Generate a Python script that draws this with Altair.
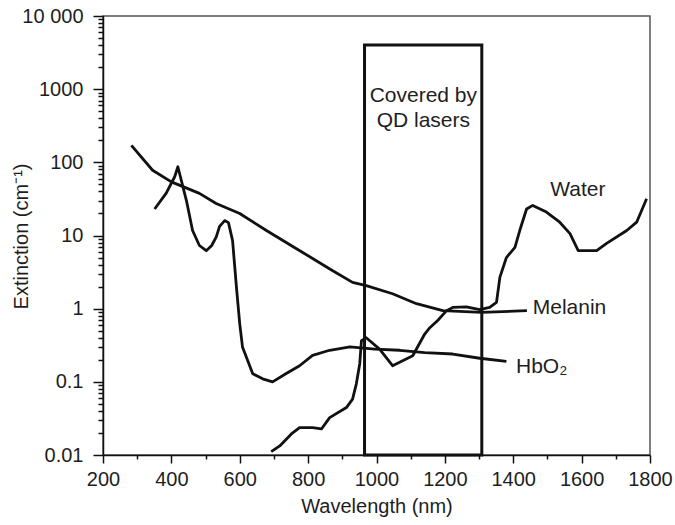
import altair as alt
import pandas as pd

# Extinction spectra (wavelength in nm, extinction in cm^-1)
melanin_nm = [283, 345, 400, 482, 531, 600, 678, 766, 872, 930, 970, 1047, 1117, 1194, 1307, 1440]
melanin_ext = [171, 78, 54, 37.6, 27.4, 20, 11.7, 6.6, 3.3, 2.29, 2.07, 1.6, 1.17, 0.94, 0.89, 0.94]

hbo2_nm = [351, 385, 410, 419, 444, 462, 482, 502, 518, 531, 541, 556, 567, 579, 591, 600, 608,
           638, 667, 696, 736, 775, 813, 863, 922, 995, 1068, 1141, 1223, 1302, 1380]
hbo2_ext = [23, 38, 64, 87, 30, 11.7, 7.3, 6.2, 7.3, 9.5, 13.3, 16, 15, 8.5, 1.8, 0.62, 0.30,
            0.129, 0.11, 0.10, 0.13, 0.166, 0.23, 0.27, 0.30, 0.28, 0.27, 0.25, 0.24, 0.21, 0.19]

water_nm = [692, 717, 751, 775, 813, 839, 863, 912, 930, 941, 951, 956, 970, 1009, 1047, 1106,
            1141, 1156, 1179, 1205, 1223, 1263, 1302, 1331, 1351, 1361, 1380, 1405, 1419, 1439,
            1457, 1497, 1536, 1566, 1590, 1644, 1673, 1732, 1761, 1790]
water_ext = [0.0111, 0.0133, 0.0194, 0.0237, 0.0237, 0.0227, 0.0324, 0.0445, 0.058, 0.094, 0.177,
             0.365, 0.40, 0.28, 0.166, 0.227, 0.45, 0.55, 0.69, 0.94, 1.04, 1.06, 0.97, 1.04, 1.22,
             2.7, 5.0, 6.9, 11.7, 23, 25.8, 20.9, 15.2, 10.6, 6.2, 6.2, 7.8, 11.7, 15.2, 31.8]

# Spectral window covered by QD lasers
band_nm = [965, 1308]
band_ext = [0.01, 4000]

# Curve labels
water_label = ["Water"]
water_label_nm = [1589]
water_label_ext = [42]
side_labels = ["Melanin", "HbO\u2082"]
side_labels_nm = [1457, 1408]
side_labels_ext = [1.02, 0.16]

box_text = ["Covered by", "QD lasers"]
box_text_nm = [1137, 1137]
box_text_ext = [800, 365]

# Axis ticks
y_major = [0.01, 0.1, 1, 10, 100, 1000, 10000]
y_minor = [m * d for d in [0.01, 0.1, 1, 10, 100, 1000] for m in range(2, 10)]
x_major = list(range(200, 1801, 200))
x_minor = list(range(300, 1800, 200))

FONT = "Liberation Sans"
INK = "#111111"
TEXT = "#1e1e1e"

curves = pd.concat([
    pd.DataFrame({"nm": melanin_nm, "ext": melanin_ext, "series": "Melanin"}),
    pd.DataFrame({"nm": hbo2_nm, "ext": hbo2_ext, "series": "HbO2"}),
    pd.DataFrame({"nm": water_nm, "ext": water_ext, "series": "Water"}),
])
band = pd.DataFrame({"x1": [band_nm[0]], "x2": [band_nm[1]], "y1": [band_ext[0]], "y2": [band_ext[1]]})
wlab = pd.DataFrame({"text": water_label, "nm": water_label_nm, "ext": water_label_ext})
slab = pd.DataFrame({"text": side_labels, "nm": side_labels_nm, "ext": side_labels_ext})
boxlab = pd.DataFrame({"text": box_text, "nm": box_text_nm, "ext": box_text_ext})

xscale = alt.Scale(domain=[200, 1800], nice=False, zero=False)
yscale = alt.Scale(type="log", domain=[0.01, 10000], nice=False)

x_axis = alt.Axis(
    values=x_major, format="d", tickSize=8, labelPadding=6, labelFontSize=20, labelFont=FONT,
    labelColor=TEXT, title="Wavelength (nm)", titleFont=FONT, titleFontSize=20,
    titleFontWeight="normal", titleColor=TEXT, titleY=51, titleBaseline="middle",
    grid=False, orient="bottom", labelFlush=False, labelOverlap=False,
)
y_axis = alt.Axis(
    values=y_major, tickSize=10, labelPadding=10, labelFontSize=20, labelFont=FONT,
    labelColor=TEXT, labelExpr="datum.value == 10000 ? '10 000' : toString(datum.value)",
    title="Extinction (cm\u207b\u00b9)", titleFont=FONT, titleFontSize=20,
    titleFontWeight="normal", titleColor=TEXT, titleX=-82, titleY=220,
    titleBaseline="middle", titleAngle=270, grid=False, orient="left",
    labelFlush=False, labelOverlap=False,
)
x_minor_axis = alt.Axis(values=x_minor, tickSize=4, labels=False, domain=False,
                        title=None, grid=False, orient="bottom")
y_minor_axis = alt.Axis(values=y_minor, tickSize=5, labels=False, domain=False,
                        title=None, grid=False, orient="left")

lines = alt.Chart(curves).mark_line(color=INK, strokeWidth=2.8, strokeJoin="round").encode(
    x=alt.X("nm:Q", scale=xscale, axis=x_axis),
    y=alt.Y("ext:Q", scale=yscale, axis=y_axis),
    detail="series:N",
)

rect = alt.Chart(band).mark_rect(fillOpacity=0, stroke=INK, strokeWidth=3).encode(
    x=alt.X("x1:Q", scale=xscale, axis=x_minor_axis),
    x2="x2:Q",
    y=alt.Y("y1:Q", scale=yscale, axis=y_minor_axis),
    y2="y2:Q",
)


def text_layer(df, align):
    return alt.Chart(df).mark_text(
        font=FONT, fontSize=21, color=TEXT, baseline="middle", align=align
    ).encode(
        x=alt.X("nm:Q", scale=xscale, axis=None),
        y=alt.Y("ext:Q", scale=yscale, axis=None),
        text="text:N",
    )


chart = (
    alt.layer(lines, rect, text_layer(wlab, "center"), text_layer(slab, "left"),
              text_layer(boxlab, "center"))
    .resolve_scale(x="shared", y="shared")
    .resolve_axis(x="independent", y="independent")
    .properties(
        width=547, height=439,
        autosize=alt.AutoSizeParams(type="none"),
        padding={"left": 103, "top": 16, "right": 25, "bottom": 70},
        background="white",
    )
    .configure_view(stroke="#555555", strokeWidth=1.5)
    .configure_axis(domainColor=INK, domainWidth=1.5, tickColor=INK, tickWidth=1.5)
)

chart.save("out.html", embed_options={"renderer": "svg", "actions": False})
